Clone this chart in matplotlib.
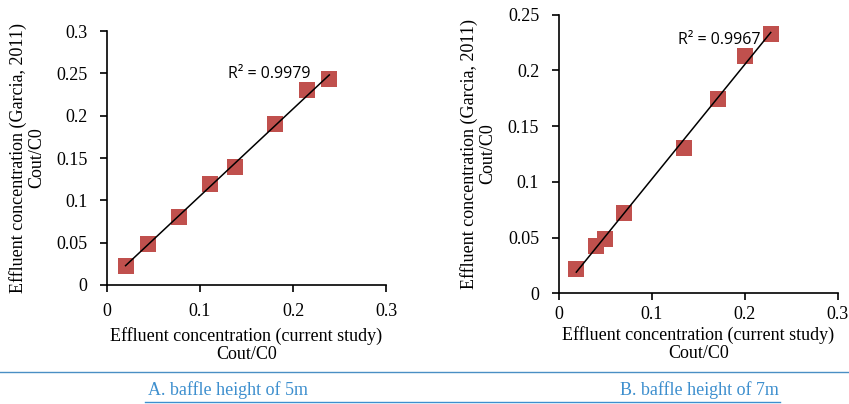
import numpy as np
import matplotlib.pyplot as plt
from matplotlib.lines import Line2D

# Cout/C0 values
x_5m = [0.020, 0.044, 0.077, 0.111, 0.138, 0.181, 0.215, 0.239]
y_5m = [0.023, 0.048, 0.080, 0.119, 0.140, 0.190, 0.230, 0.243]
x_7m = [0.019, 0.040, 0.050, 0.070, 0.135, 0.171, 0.200, 0.228]
y_7m = [0.022, 0.042, 0.049, 0.072, 0.130, 0.174, 0.213, 0.233]
r2_labels = ['R² = 0.9979', 'R² = 0.9967']
captions = ['A. baffle height of 5m', 'B. baffle height of 7m']

serif = 'Liberation Serif'
red = '#c0504d'
blue = '#3d8fce'

fig = plt.figure(figsize=(8.49, 4.04), dpi=100)
ax1 = fig.add_axes([0.126, 0.2946, 0.3287, 0.6284])
ax2 = fig.add_axes([0.658, 0.274, 0.3287, 0.6896])


def draw(ax, x, y, ymax, yticks, r2, r2_pos, xpad, xlabelpad):
    ax.scatter(x, y, marker='s', s=135, color=red, zorder=2, linewidths=0)
    m, b = np.polyfit(x, y, 1)
    xs = np.array([min(x), max(x)])
    ax.plot(xs, m * xs + b, color='black', lw=1.1, zorder=3)
    ax.set_xlim(0, 0.3)
    ax.set_ylim(0, ymax)
    ax.set_xticks([0, 0.1, 0.2, 0.3])
    ax.set_xticklabels(['0', '0.1', '0.2', '0.3'])
    ax.set_yticks(yticks)
    ax.set_yticklabels([('%g' % t) for t in yticks])
    for s in ['top', 'right']:
        ax.spines[s].set_visible(False)
    for s in ['left', 'bottom']:
        ax.spines[s].set_linewidth(1.2)
    ax.tick_params(direction='out', length=5, width=1.2, labelsize=13)
    ax.tick_params(axis='y', pad=9)
    ax.tick_params(axis='x', pad=xpad)
    for lab in ax.get_xticklabels() + ax.get_yticklabels():
        lab.set_fontfamily(serif)
    ax.set_xlabel('Effluent concentration (current study)\nCout/C0',
                  fontfamily=serif, fontsize=13, linespacing=1.1, labelpad=xlabelpad)
    ax.set_ylabel('Effluent concentration (Garcia, 2011)\nCout/C0',
                  fontfamily=serif, fontsize=13, linespacing=1.1, labelpad=8)
    ax.text(r2_pos[0], r2_pos[1], r2, fontfamily='Open Sans', fontsize=11.5,
            ha='left', va='center')


draw(ax1, x_5m, y_5m, 0.3, [0, 0.05, 0.1, 0.15, 0.2, 0.25, 0.3], r2_labels[0],
     (0.1305, 0.249), 8, 5)
draw(ax2, x_7m, y_7m, 0.25, [0, 0.05, 0.1, 0.15, 0.2, 0.25], r2_labels[1],
     (0.1285, 0.227), 4, 2)

# separator and captions
fig.add_artist(Line2D([0, 1], [1 - 371.5 / 404] * 2, color='#4a8fc4', lw=1.0))
fig.text(228 / 849, 1 - 390 / 404, captions[0], color=blue, fontfamily=serif,
         fontsize=13, ha='center', va='center')
fig.text(699 / 849, 1 - 390 / 404, captions[1], color=blue, fontfamily=serif,
         fontsize=13, ha='center', va='center')
fig.add_artist(Line2D([145 / 849, 780 / 849], [1 - 401.5 / 404] * 2, color=blue, lw=1.0))

fig.savefig('out.png', dpi=100)
